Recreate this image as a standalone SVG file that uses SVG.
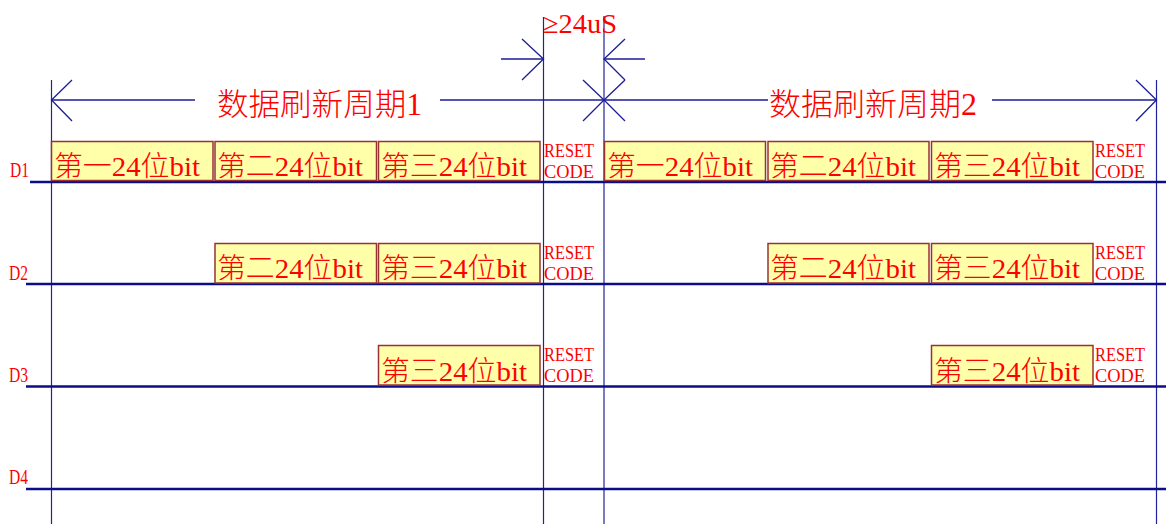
<svg xmlns="http://www.w3.org/2000/svg" width="1166" height="524" viewBox="0 0 1166 524">
<style>
.bg{fill:#ffffff}
.sig{stroke:#0c0c88;stroke-width:2.5;fill:none}
.vl{stroke:#22229a;stroke-width:1.2;fill:none}
.ar{stroke:#1c1c96;stroke-width:1.3;fill:none}
.box{fill:#ffffaa;stroke:#993333;stroke-width:1.5}
.t{fill:#ff0000;font-family:"Liberation Serif","Noto Sans CJK SC",serif}
.c{font-family:"Noto Sans CJK SC",sans-serif;font-weight:300}
.l{font-family:"Liberation Serif",serif}
.bt{font-size:28px}
.rc{font-size:19px}
.dl{font-size:21px}
.ti{font-size:31px}
</style>
<rect class="bg" x="0" y="0" width="1166" height="524"/>

<g id="connectors">
  <line class="vl" x1="51.5" y1="80" x2="51.5" y2="524"/>
  <line class="vl" x1="543.5" y1="17" x2="543.5" y2="524"/>
  <line class="vl" x1="604" y1="16" x2="604" y2="524"/>
  <line class="vl" x1="1156.5" y1="80" x2="1156.5" y2="524"/>
  <line class="sig" x1="30" y1="182" x2="1166" y2="182"/>
  <line class="sig" x1="26" y1="284" x2="1166" y2="284"/>
  <line class="sig" x1="26" y1="386.5" x2="1166" y2="386.5"/>
  <line class="sig" x1="26" y1="489" x2="1166" y2="489"/>
  <line class="ar" x1="51.5" y1="100" x2="195" y2="100"/>
  <polyline class="ar" points="72,80 51.5,100 72,121"/>
  <line class="ar" x1="440" y1="100" x2="604" y2="100"/>
  <polyline class="ar" points="583,80 604,100 583,121"/>
  <line class="ar" x1="604" y1="100" x2="768" y2="100"/>
  <polyline class="ar" points="625,80 604,100 625,121"/>
  <line class="ar" x1="992" y1="100" x2="1156.5" y2="100"/>
  <polyline class="ar" points="1136,80 1156.5,100 1136,121"/>
  <line class="ar" x1="501" y1="59" x2="543.5" y2="59"/>
  <polyline class="ar" points="522,39 543.5,59 522,80"/>
  <line class="ar" x1="604" y1="59" x2="645" y2="59"/>
  <polyline class="ar" points="625,39 604,59 625,80"/>
</g>

<g id="labels">
  <text class="t ti" x="217" y="115" textLength="205" lengthAdjust="spacingAndGlyphs"><tspan class="c">数据刷新周期</tspan><tspan class="l">1</tspan></text>
  <text class="t ti" x="769" y="115" textLength="208" lengthAdjust="spacingAndGlyphs"><tspan class="c">数据刷新周期</tspan><tspan class="l">2</tspan></text>
  <text class="t l" x="543" y="33" font-size="28" textLength="74" lengthAdjust="spacingAndGlyphs">≥24uS</text>
</g>

<g id="D1">
  <text class="t dl" x="10" y="177" textLength="19" lengthAdjust="spacingAndGlyphs">D1</text>
  <g id="D1-p1-b1"><rect class="box" x="51.5" y="141.5" width="161.5" height="39"/><text class="t bt" x="54" y="176" textLength="146" lengthAdjust="spacingAndGlyphs"><tspan class="c">第一</tspan><tspan class="l">24</tspan><tspan class="c">位</tspan><tspan class="l">bit</tspan></text></g>
  <g id="D1-p1-b2"><rect class="box" x="215" y="141.5" width="161.5" height="39"/><text class="t bt" x="217" y="176" textLength="146" lengthAdjust="spacingAndGlyphs"><tspan class="c">第二</tspan><tspan class="l">24</tspan><tspan class="c">位</tspan><tspan class="l">bit</tspan></text></g>
  <g id="D1-p1-b3"><rect class="box" x="378.5" y="141.5" width="161.5" height="39"/><text class="t bt" x="381" y="176" textLength="146" lengthAdjust="spacingAndGlyphs"><tspan class="c">第三</tspan><tspan class="l">24</tspan><tspan class="c">位</tspan><tspan class="l">bit</tspan></text></g>
  <g id="D1-p1-rst"><text class="t rc" x="544" y="157" textLength="50" lengthAdjust="spacingAndGlyphs">RESET</text><text class="t rc" x="544" y="178" textLength="50" lengthAdjust="spacingAndGlyphs">CODE</text></g>
  <g id="D1-p2-b1"><rect class="box" x="604.5" y="141.5" width="161" height="39"/><text class="t bt" x="607" y="176" textLength="146" lengthAdjust="spacingAndGlyphs"><tspan class="c">第一</tspan><tspan class="l">24</tspan><tspan class="c">位</tspan><tspan class="l">bit</tspan></text></g>
  <g id="D1-p2-b2"><rect class="box" x="768" y="141.5" width="161" height="39"/><text class="t bt" x="770" y="176" textLength="146" lengthAdjust="spacingAndGlyphs"><tspan class="c">第二</tspan><tspan class="l">24</tspan><tspan class="c">位</tspan><tspan class="l">bit</tspan></text></g>
  <g id="D1-p2-b3"><rect class="box" x="931.5" y="141.5" width="161.5" height="39"/><text class="t bt" x="934" y="176" textLength="146" lengthAdjust="spacingAndGlyphs"><tspan class="c">第三</tspan><tspan class="l">24</tspan><tspan class="c">位</tspan><tspan class="l">bit</tspan></text></g>
  <g id="D1-p2-rst"><text class="t rc" x="1095" y="157" textLength="50" lengthAdjust="spacingAndGlyphs">RESET</text><text class="t rc" x="1095" y="178" textLength="50" lengthAdjust="spacingAndGlyphs">CODE</text></g>
</g>

<g id="D2">
  <text class="t dl" x="9" y="280" textLength="19" lengthAdjust="spacingAndGlyphs">D2</text>
  <g id="D2-p1-b2"><rect class="box" x="215" y="243.5" width="161.5" height="39.5"/><text class="t bt" x="217" y="278" textLength="146" lengthAdjust="spacingAndGlyphs"><tspan class="c">第二</tspan><tspan class="l">24</tspan><tspan class="c">位</tspan><tspan class="l">bit</tspan></text></g>
  <g id="D2-p1-b3"><rect class="box" x="378.5" y="243.5" width="161.5" height="39.5"/><text class="t bt" x="381" y="278" textLength="146" lengthAdjust="spacingAndGlyphs"><tspan class="c">第三</tspan><tspan class="l">24</tspan><tspan class="c">位</tspan><tspan class="l">bit</tspan></text></g>
  <g id="D2-p1-rst"><text class="t rc" x="544" y="259" textLength="50" lengthAdjust="spacingAndGlyphs">RESET</text><text class="t rc" x="544" y="280" textLength="50" lengthAdjust="spacingAndGlyphs">CODE</text></g>
  <g id="D2-p2-b2"><rect class="box" x="768" y="243.5" width="161" height="39.5"/><text class="t bt" x="770" y="278" textLength="146" lengthAdjust="spacingAndGlyphs"><tspan class="c">第二</tspan><tspan class="l">24</tspan><tspan class="c">位</tspan><tspan class="l">bit</tspan></text></g>
  <g id="D2-p2-b3"><rect class="box" x="931.5" y="243.5" width="161.5" height="39.5"/><text class="t bt" x="934" y="278" textLength="146" lengthAdjust="spacingAndGlyphs"><tspan class="c">第三</tspan><tspan class="l">24</tspan><tspan class="c">位</tspan><tspan class="l">bit</tspan></text></g>
  <g id="D2-p2-rst"><text class="t rc" x="1095" y="259" textLength="50" lengthAdjust="spacingAndGlyphs">RESET</text><text class="t rc" x="1095" y="280" textLength="50" lengthAdjust="spacingAndGlyphs">CODE</text></g>
</g>

<g id="D3">
  <text class="t dl" x="9" y="382" textLength="19" lengthAdjust="spacingAndGlyphs">D3</text>
  <g id="D3-p1-b3"><rect class="box" x="378.5" y="345.5" width="161.5" height="39.5"/><text class="t bt" x="381" y="381" textLength="146" lengthAdjust="spacingAndGlyphs"><tspan class="c">第三</tspan><tspan class="l">24</tspan><tspan class="c">位</tspan><tspan class="l">bit</tspan></text></g>
  <g id="D3-p1-rst"><text class="t rc" x="544" y="361" textLength="50" lengthAdjust="spacingAndGlyphs">RESET</text><text class="t rc" x="544" y="382" textLength="50" lengthAdjust="spacingAndGlyphs">CODE</text></g>
  <g id="D3-p2-b3"><rect class="box" x="931.5" y="345.5" width="161.5" height="39.5"/><text class="t bt" x="934" y="381" textLength="146" lengthAdjust="spacingAndGlyphs"><tspan class="c">第三</tspan><tspan class="l">24</tspan><tspan class="c">位</tspan><tspan class="l">bit</tspan></text></g>
  <g id="D3-p2-rst"><text class="t rc" x="1095" y="361" textLength="50" lengthAdjust="spacingAndGlyphs">RESET</text><text class="t rc" x="1095" y="382" textLength="50" lengthAdjust="spacingAndGlyphs">CODE</text></g>
</g>

<g id="D4">
  <text class="t dl" x="9" y="484" textLength="19" lengthAdjust="spacingAndGlyphs">D4</text>
</g>
</svg>
